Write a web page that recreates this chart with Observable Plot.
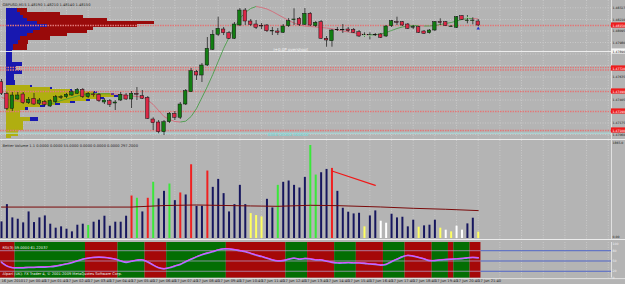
<!DOCTYPE html>
<html><head><meta charset="utf-8">
<script src="https://cdn.jsdelivr.net/npm/d3@7"></script>
<script src="https://cdn.jsdelivr.net/npm/@observablehq/plot@0.6"></script>
<style>
html,body{margin:0;padding:0;background:#b4b4b4;overflow:hidden}
#wrap{position:relative;width:625px;height:284px;overflow:hidden;background:#b4b4b4;font-family:"DejaVu Sans",sans-serif}
#wrap>div{position:absolute;left:0}
svg{display:block}
</style></head><body>
<div id="wrap"><div id="p1" style="top:0"></div><div id="p2" style="top:140px"></div><div id="p3" style="top:240px"></div></div>
<script>
const symbol = "GBPUSD,M15";
const open=[1.47583,1.47467,1.47317,1.47410,1.47460,1.47373,1.47417,1.47367,1.47383,1.47340,
1.47383,1.47427,1.47433,1.47450,1.47467,1.47507,1.47433,1.47460,1.47457,1.47380,
1.47393,1.47370,1.47400,1.47450,1.47410,1.47465,1.47443,1.47427,1.47210,1.47180,
1.47083,1.47183,1.47267,1.47227,1.47360,1.47483,1.47683,1.47650,1.47750,1.47907,
1.48057,1.48110,1.48073,1.48017,1.48150,1.48300,1.48190,1.48160,1.48145,1.48150,
1.48090,1.48090,1.48077,1.48143,1.48203,1.48217,1.48157,1.48267,1.48143,1.48183,
1.48017,1.47993,1.48107,1.48102,1.48110,1.48107,1.48083,1.48052,1.48052,1.48057,
1.48060,1.48040,1.48143,1.48183,1.48183,1.48160,1.48128,1.48133,1.48090,1.48073,
1.48100,1.48183,1.48183,1.48135,1.48127,1.48243,1.48195,1.48195,1.48190];
const high=[1.47610,1.47483,1.47480,1.47480,1.47480,1.47430,1.47470,1.47420,1.47400,1.47410,
1.47450,1.47450,1.47470,1.47500,1.47520,1.47520,1.47480,1.47483,1.47470,1.47420,
1.47410,1.47400,1.47480,1.47470,1.47490,1.47530,1.47500,1.47440,1.47227,1.47200,
1.47200,1.47280,1.47290,1.47380,1.47510,1.47720,1.47700,1.47770,1.48030,1.48100,
1.48233,1.48130,1.48090,1.48180,1.48320,1.48320,1.48210,1.48200,1.48170,1.48160,
1.48130,1.48120,1.48160,1.48220,1.48317,1.48230,1.48320,1.48280,1.48190,1.48200,
1.48040,1.48110,1.48130,1.48160,1.48130,1.48120,1.48100,1.48077,1.48077,1.48070,
1.48070,1.48150,1.48200,1.48233,1.48190,1.48170,1.48150,1.48140,1.48100,1.48110,
1.48190,1.48217,1.48190,1.48150,1.48240,1.48250,1.48250,1.48227,1.48210];
const low=[1.47450,1.47300,1.47290,1.47400,1.47360,1.47360,1.47350,1.47350,1.47340,1.47330,
1.47370,1.47410,1.47420,1.47440,1.47460,1.47420,1.47420,1.47433,1.47380,1.47360,
1.47330,1.47300,1.47390,1.47400,1.47320,1.47400,1.47410,1.47210,1.47100,1.47067,
1.47050,1.47170,1.47200,1.47210,1.47350,1.47480,1.47600,1.47580,1.47740,1.47900,
1.48040,1.48050,1.48010,1.48010,1.48140,1.48150,1.48140,1.48110,1.48110,1.48080,
1.48050,1.48050,1.48070,1.48130,1.48150,1.48140,1.48150,1.48140,1.48130,1.48010,
1.47933,1.47933,1.48090,1.48070,1.48080,1.48070,1.48030,1.48033,1.48007,1.48040,
1.48020,1.48030,1.48130,1.48150,1.48140,1.48110,1.48110,1.48070,1.48060,1.48065,
1.48090,1.48150,1.48140,1.48130,1.48120,1.48200,1.48167,1.48157,1.48140];
const close=[1.47467,1.47317,1.47450,1.47450,1.47373,1.47407,1.47360,1.47400,1.47357,1.47393,
1.47433,1.47433,1.47457,1.47483,1.47507,1.47433,1.47467,1.47453,1.47393,1.47400,
1.47357,1.47380,1.47457,1.47410,1.47467,1.47458,1.47417,1.47217,1.47173,1.47083,
1.47183,1.47267,1.47227,1.47360,1.47493,1.47693,1.47650,1.47750,1.47917,1.48057,
1.48117,1.48073,1.48017,1.48160,1.48300,1.48190,1.48157,1.48127,1.48140,1.48093,
1.48095,1.48077,1.48140,1.48193,1.48210,1.48157,1.48267,1.48150,1.48177,1.48017,
1.48000,1.48100,1.48102,1.48107,1.48093,1.48077,1.48040,1.48057,1.48057,1.48052,
1.48027,1.48140,1.48193,1.48177,1.48150,1.48117,1.48135,1.48077,1.48067,1.48100,
1.48183,1.48177,1.48143,1.48140,1.48233,1.48207,1.48200,1.48200,1.48150];
const ma=[1.4743,1.47415,1.4740,1.47395,1.4739,1.47385,1.4738,1.47375,1.4737,1.47367,
1.4738,1.4740,1.47415,1.4743,1.47445,1.4746,1.47465,1.47467,1.47467,1.47467,
1.47467,1.47464,1.4746,1.47452,1.47445,1.4744,1.47433,1.47405,1.4736,1.4730,
1.4724,1.4721,1.4719,1.47185,1.47193,1.4724,1.4732,1.4743,1.4754,1.4766,
1.4779,1.4792,1.4803,1.4813,1.4822,1.4828,1.4832,1.4834,1.4833,1.48315,
1.4829,1.4826,1.4823,1.4820,1.48175,1.48155,1.48145,1.4814,1.48135,1.4813,
1.48125,1.48117,1.48107,1.48095,1.48085,1.48075,1.48067,1.4806,1.48057,1.48057,
1.48065,1.4808,1.4810,1.4812,1.48135,1.48145,1.4815,1.4815,1.48145,1.48145,
1.4815,1.4816,1.4817,1.4818,1.48195,1.4821,1.4822,1.4822,1.48215];

// volume profile rows (top price of each row; last bottom below)
const profTop=[1.4832,1.4828,1.4825,1.4822,1.4819,1.4816,1.4813,1.4810,1.4807,1.4804,1.4800,1.4796,1.4790,1.4778,1.4774,1.4770,1.4766,1.4760,
1.4755,1.4753,1.4751,1.4749,1.4747,1.4745,1.4743,1.4741,1.4739,1.4737,1.4735,1.4733,1.4730,1.4723,1.4719,1.4710,1.4704];
const profBottom=1.4702;
const profBlue=[11,14,17,21,31,41,34,27,21,14,12,7,6,16,10,16,8,9,26,46,66,91,108,112,98,84,69,54,39,22,14,32,17,12,5];
const profRed=[21,54,77,101,148,131,87,81,61,44,22,21,0,0,0,0,0,0,0,0,0,0,0,0,0,0,0,0,0,0,0,0,0,0,0];
const profYellow=[0,0,0,0,0,0,0,0,0,0,0,0,0,0,0,0,0,0,24,44,64,88,105,108,94,80,64,49,34,19,14,24,17,12,5];

const levels=[1.4815,1.4773,1.47705,1.4749,1.4729,1.4710];
const levelLabels=[1.4815,1.4772,1.4749,1.4729,1.4710];
const whiteLevel=1.4789, cyanLevel=1.47073;
const priceTicks=[1.48327,1.4821,1.48095,1.4798,1.47865,1.4775,1.47635,1.4752,1.47405,1.4729,1.47175,1.4706];

const volume=[325,663,403,377,306,520,312,403,442,280,202,228,182,130,260,280,254,319,358,436,
241,319,319,436,832,787,520,787,1099,774,923,1066,741,891,852,1443,631,631,1320,1001,
1157,878,520,663,1040,663,488,449,423,767,598,1040,1099,1125,1040,988,1196,1820,1242,1287,
1352,1372,923,592,514,481,494,228,442,540,338,299,475,403,416,228,358,221,247,260,
358,202,163,130,241,163,286,397,124];
const volClass="nnnnnnnnnnnnnnnngnnnnnnnrgnrgnngnrnrnnrnnnnnnnyyynngnnnnnggnnrnnnnnynnwwnnnnnynnnywywwnny";
const volMaIdx=[0,24,30,36,46,51,57,62,70,76,82,88];
const volMaVal=[615,615,645,656,637,630,650,643,617,591,572,546];
const trendIdx=[61,69], trendVal=[1320,1040];
const volMax=1865;

const rsi=[46,35,30,30,30,31,31,32,32,33,35,38,41,45,50,55,58,60,61,60,58,55,50,46,49,52,53,47,38,30,
27,30,35,40,48,55,62,68,73,77,82,85,85,83,80,77,72,67,63,58,53,50,51,55,58,55,57,56,53,53,
49,46,44,44,45,44,44,43,41,40,38,40,48,55,62,66,64,60,56,51,51,53,54,55,56,57,59,60,59];
const bandStart=[0,3,16,22,27,31,42,53,57,62,66,71,75,80,83,84,87];
const bandColor=["red","green","red","green","red","green","red","green","red","green","red","green","red","green","red","green","red"];
const rsiLevels=[80,50,20];
const rsiTicks=[100,80,50,20,0];
const timeLabels=["16 Jun 2010","17 Jun 00:40","17 Jun 01:40","17 Jun 02:40","17 Jun 03:40","17 Jun 04:40","17 Jun 05:40","17 Jun 06:40","17 Jun 07:40","17 Jun 08:40","17 Jun 09:40","17 Jun 10:40","17 Jun 11:40","17 Jun 12:40","17 Jun 13:40","17 Jun 14:40","17 Jun 15:40","17 Jun 16:40","17 Jun 17:40","17 Jun 18:40","17 Jun 19:40","17 Jun 20:40","17 Jun 21:40"];
const barsPerLabel=4;

// ---- layout
const N=open.length;
const xMin=-0.185, xMax=112.6, plotRight=611;
const pxPerBar=plotRight/(xMax-xMin);
const pxToBar=px=>px/pxPerBar+xMin;
const gridBars=d3.range(0,113,barsPerLabel);
const xs={domain:[xMin,xMax],range:[0,plotRight],axis:null};
const F="DejaVu Sans, sans-serif";
const GRID="#d6d6d6";
const AX=3.1;
const bars=d3.range(N).map(i=>({i,o:open[i],h:high[i],l:low[i],c:close[i],up:close[i]>=open[i]}));
const last=bars[N-1];

const prof=profTop.map((t,k)=>({hi:t,lo:k+1<profTop.length?profTop[k+1]:profBottom,b:profBlue[k],r:profRed[k],y:profYellow[k]}));
const px0=6;
const maSegs=d3.range(N-1).map(i=>({i,a:ma[i],b:ma[i+1]}));

const p1=Plot.plot({
  width:625,height:140,margin:0,marginRight:14,
  x:xs, y:{domain:[1.4701,1.4840],range:[139,0],axis:null},
  style:{background:"transparent",overflow:"visible",fontFamily:F},
  marks:[
    Plot.ruleX(gridBars,{stroke:GRID,strokeDasharray:"1,1.5",strokeWidth:0.6}),
    Plot.ruleY(priceTicks,{x1:xMin,x2:xMax,stroke:GRID,strokeDasharray:"1,1.5",strokeWidth:0.6}),
    Plot.rect(prof.filter(d=>d.r>0),{x1:pxToBar(px0),x2:d=>pxToBar(px0+d.r),y1:"lo",y2:"hi",fill:"#990a0a",inset:0}),
    Plot.rect(prof,{x1:pxToBar(px0),x2:d=>pxToBar(px0+d.b),y1:"lo",y2:"hi",fill:"#1818b0",inset:0}),
    Plot.rect(prof.filter(d=>d.y>0),{x1:pxToBar(px0),x2:d=>pxToBar(px0+d.y),y1:"lo",y2:"hi",fill:"#b0ae10",inset:0}),
    Plot.ruleY(levels,{x1:xMin,x2:xMax,stroke:"#e07878",strokeWidth:1.4,strokeDasharray:"1.5,1"}),
    Plot.ruleY([whiteLevel],{x1:xMin,x2:xMax,stroke:"#f4f4f4",strokeWidth:0.9}),
    Plot.ruleY([cyanLevel],{x1:xMin,x2:xMax,stroke:"#a8dcdc",strokeWidth:1}),
    Plot.text(["j+0.0P overshoot"],{x:pxToBar(273),y:whiteLevel,dy:-2,textAnchor:"start",fontSize:4,fill:"#f4f4f4"}),
    Plot.text(["0000 00000 000000"],{x:pxToBar(267),y:cyanLevel,dy:2,textAnchor:"start",fontSize:4,fill:"#60e0e0"}),
    Plot.link(maSegs,{x1:"i",y1:"a",x2:d=>d.i+1,y2:"b",stroke:d=>d.b>=d.a?"#3d9a3d":"#d86070",strokeWidth:0.8}),
    Plot.ruleX(bars,{x:"i",y1:"l",y2:"h",stroke:"#111",strokeWidth:0.7}),
    Plot.rect(bars,{x1:d=>d.i-0.32,x2:d=>d.i+0.32,y1:"o",y2:"c",fill:d=>d.up?"#127e12":"#dc2846",stroke:"#111",strokeWidth:0.5}),
    Plot.dot([{i:67,p:1.4805},{i:68,p:1.4805},{i:86,p:1.4823}],{x:"i",y:"p",symbol:"times",r:1.3,stroke:"#9cf09c",strokeWidth:0.7}),
    Plot.dot([{i:88,p:1.4812}],{x:"i",y:"p",symbol:"triangle",r:1.3,fill:"#2030d0",stroke:null}),
    Plot.ruleY([1.4701],{x1:xMin,x2:xMax+3,stroke:"#ececec",strokeWidth:1}),
    Plot.ruleX([xMax],{stroke:"#ececec",strokeWidth:0.8}),
    Plot.text(priceTicks.filter(t=>levelLabels.every(l=>Math.abs(l-t)>0.0004)&&Math.abs(t-whiteLevel)>0.0004),{x:xMax,y:d=>d,dx:1,textAnchor:"start",fontSize:AX,fill:"#222",text:d=>d.toFixed(5)}),
    Plot.rect(levelLabels,{x1:xMax,x2:xMax+2.7,y1:d=>d-0.00026,y2:d=>d+0.00026,fill:"#ee1c1c"}),
    Plot.rect([whiteLevel],{x1:xMax,x2:xMax+2.7,y1:d=>d-0.00026,y2:d=>d+0.00026,fill:"#f6f6f6"}),
    Plot.text(levelLabels,{x:xMax,y:d=>d,dx:1,textAnchor:"start",fontSize:AX,fill:"#fff",text:d=>d.toFixed(5)}),
    Plot.text([whiteLevel],{x:xMax,y:d=>d,dx:1,textAnchor:"start",fontSize:AX,fill:"#222",text:d=>d.toFixed(5)}),
    Plot.text([`${symbol} ${last.o.toFixed(5)} ${last.h.toFixed(5)} ${last.l.toFixed(5)} ${last.c.toFixed(5)}`],{frameAnchor:"top-left",dx:2,dy:3,textAnchor:"start",fontSize:3.6,fill:"#222"})
  ]
});
document.getElementById("p1").append(p1);

// ---- volume
const volColors={n:"#16165e",g:"#3ae83a",r:"#f02020",y:"#ffff60",w:"#ffffff"};
const vbars=d3.range(N).map(i=>({i,v:volume[i],k:volClass[i]}));
const volMa=volMaIdx.map((i,k)=>({i,v:volMaVal[k]}));
const p2=Plot.plot({
  width:625,height:99,margin:0,marginRight:14,
  x:xs, y:{domain:[0,volMax],range:[98,2.7],axis:null},
  style:{background:"transparent",overflow:"visible",fontFamily:F},
  marks:[
    Plot.ruleX(gridBars,{stroke:GRID,strokeDasharray:"1,1.5",strokeWidth:0.6}),
    Plot.ruleX(vbars,{x:"i",y1:0,y2:"v",stroke:d=>volColors[d.k],strokeWidth:2}),
    Plot.line(volMa,{x:"i",y:"v",stroke:"#7a0a0a",strokeWidth:1}),
    Plot.line(trendIdx.map((i,k)=>({i,v:trendVal[k]})),{x:"i",y:"v",stroke:"#f01818",strokeWidth:1.2}),
    Plot.ruleY([0],{x1:xMin,x2:xMax+3,dy:1,stroke:"#ececec",strokeWidth:1}),
    Plot.ruleX([xMax],{stroke:"#ececec",strokeWidth:0.8}),
    Plot.text([volMax],{x:xMax,y:d=>d,dx:1,textAnchor:"start",fontSize:AX,fill:"#222",text:d=>d.toFixed(1)}),
    Plot.text([0],{x:xMax,y:d=>d,dx:1,dy:-2,textAnchor:"start",fontSize:AX,fill:"#222",text:()=>"0.00"}),
    Plot.text(["Better Volume 1.1 0.0000 0.0000 55.0000 0.0000 0.0000 0.0000 297.2000"],{frameAnchor:"top-left",dx:2,dy:4,textAnchor:"start",fontSize:3.6,fill:"#222"})
  ]
});
document.getElementById("p2").append(p2);

// ---- RSI panel
const bands=bandStart.map((s,k)=>({s,e:k+1<bandStart.length?bandStart[k+1]:N,c:bandColor[k]}));
const rsiData=rsi.map((v,i)=>({i,v}));
const p3=Plot.plot({
  width:625,height:44,marginTop:2,marginBottom:6.4,marginLeft:0,marginRight:14,
  x:xs, y:{domain:[0,104],axis:null},
  style:{background:"transparent",overflow:"visible",fontFamily:F},
  marks:[
    Plot.ruleX(gridBars,{stroke:GRID,strokeDasharray:"1,1.5",strokeWidth:0.6}),
    Plot.rect(bands,{x1:d=>d.s-0.5,x2:d=>d.e-0.5,fill:d=>d.c==="red"?"#a50808":"#036e03"}),
    Plot.ruleY(rsiLevels,{x1:N-0.5,x2:xMax,stroke:"#5066c8",strokeWidth:1}),
    Plot.ruleY(rsiLevels,{x1:xMin,x2:N-0.5,stroke:"#b8a8d8",strokeWidth:0.7}),
    Plot.line(rsiData,{x:"i",y:"v",stroke:"#8c8cff",strokeWidth:1.6,curve:"catmull-rom"}),
    Plot.line(rsiData,{x:"i",y:"v",stroke:"#ff3cff",strokeWidth:0.8,dy:-0.4,curve:"catmull-rom"}),
    Plot.ruleX([xMax],{stroke:"#ececec",strokeWidth:0.8}),
    Plot.ruleY([0],{x1:xMin,x2:xMax+3,dy:0.5,stroke:"#ececec",strokeWidth:0.8}),
    Plot.text(rsiTicks,{x:xMax,y:d=>d,dx:1,textAnchor:"start",fontSize:AX,fill:"#f0f0f0"}),
    Plot.text([`RSI(3) ${rsi[N-1].toFixed(4)} 61.22037`],{frameAnchor:"top-left",dx:2,dy:4,textAnchor:"start",fontSize:3.6,fill:"#f0f0f0"}),
    Plot.text(["Alpari (UK): FX Trader 4, © 2001-2009 MetaQuotes Software Corp."],{frameAnchor:"bottom-left",dx:2,dy:-3,textAnchor:"start",fontSize:3.6,fill:"#f0f0f0"}),
    Plot.text(timeLabels,{x:(d,k)=>k*barsPerLabel,frameAnchor:"bottom",dy:3.4,textAnchor:"start",fontSize:3.6,fill:"#222"})
  ]
});
document.getElementById("p3").append(p3);
</script></body></html>
